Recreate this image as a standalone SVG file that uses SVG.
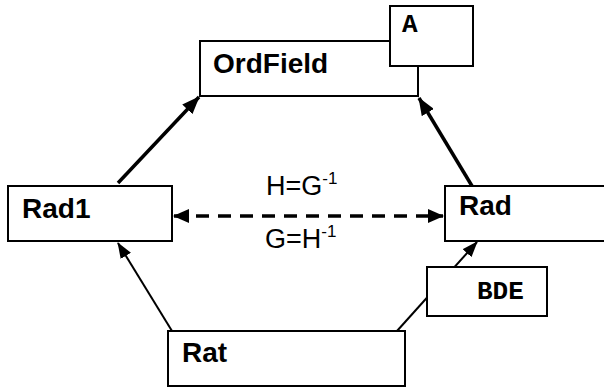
<svg xmlns="http://www.w3.org/2000/svg" width="604" height="387" viewBox="0 0 604 387">
<style>
.box{fill:#fff;stroke:#000;stroke-width:2}
.lbl{font-family:"Liberation Sans",Arial,sans-serif;font-weight:bold;font-size:28px;fill:#000}
.mono{font-family:"Liberation Mono","Courier New",monospace;font-weight:bold;font-size:26px;fill:#000}
.eq{font-family:"Liberation Sans",Arial,sans-serif;font-size:27px;fill:#000}
.sup{font-size:17px}
.thick{stroke:#000;stroke-width:3.5;fill:none}
.thin{stroke:#000;stroke-width:2;fill:none}
.dash{stroke:#000;stroke-width:3.5;fill:none;stroke-dasharray:13 9}
</style>
<defs>
<marker id="ah" markerUnits="userSpaceOnUse" markerWidth="18" markerHeight="14" refX="17" refY="7" orient="auto">
<path d="M0,0 L18,7 L0,14 z" fill="#000"/>
</marker>
<marker id="ahs" markerUnits="userSpaceOnUse" markerWidth="16" markerHeight="12" refX="15" refY="6" orient="auto">
<path d="M0,0 L16,6 L0,12 z" fill="#000"/>
</marker>
<marker id="ahd" markerUnits="userSpaceOnUse" markerWidth="16" markerHeight="14" refX="15" refY="7" orient="auto-start-reverse">
<path d="M0,0 L16,7 L0,14 z" fill="#000"/>
</marker>
</defs>
<g id="connectors">
<line class="thick" x1="118" y1="183" x2="199" y2="97" marker-end="url(#ah)"/>
<line class="thick" x1="472" y1="186" x2="419" y2="98" marker-end="url(#ah)"/>
<line class="thin" x1="172" y1="331" x2="118" y2="243" marker-end="url(#ahs)"/>
<line class="thin" x1="397" y1="331" x2="477" y2="242" marker-end="url(#ahs)"/>
<line class="dash" x1="174" y1="216" x2="443" y2="216" marker-start="url(#ahd)" marker-end="url(#ahd)"/>
</g>
<g id="OrdField">
<rect class="box" x="200" y="41" width="218" height="55"/>
<text class="lbl" x="213" y="73">OrdField</text>
</g>
<g id="A">
<rect class="box" x="390" y="6" width="83" height="60"/>
<text class="mono" x="402" y="32">A</text>
</g>
<g id="Rad1">
<rect class="box" x="8" y="186" width="164" height="55"/>
<text class="lbl" x="22" y="218">Rad1</text>
</g>
<g id="Rad">
<rect class="box" x="445" y="186" width="170" height="55"/>
<text class="lbl" x="459" y="215">Rad</text>
</g>
<g id="BDE">
<rect class="box" x="427" y="267" width="120" height="49"/>
<text class="mono" x="477" y="299">BDE</text>
</g>
<g id="Rat">
<rect class="box" x="168" y="331" width="237" height="55"/>
<text class="lbl" x="182" y="362">Rat</text>
</g>
<g id="labels">
<text class="eq" x="266" y="195">H=G<tspan class="sup" dy="-11">-1</tspan></text>
<text class="eq" x="265" y="248">G=H<tspan class="sup" dy="-11">-1</tspan></text>
</g>
</svg>
